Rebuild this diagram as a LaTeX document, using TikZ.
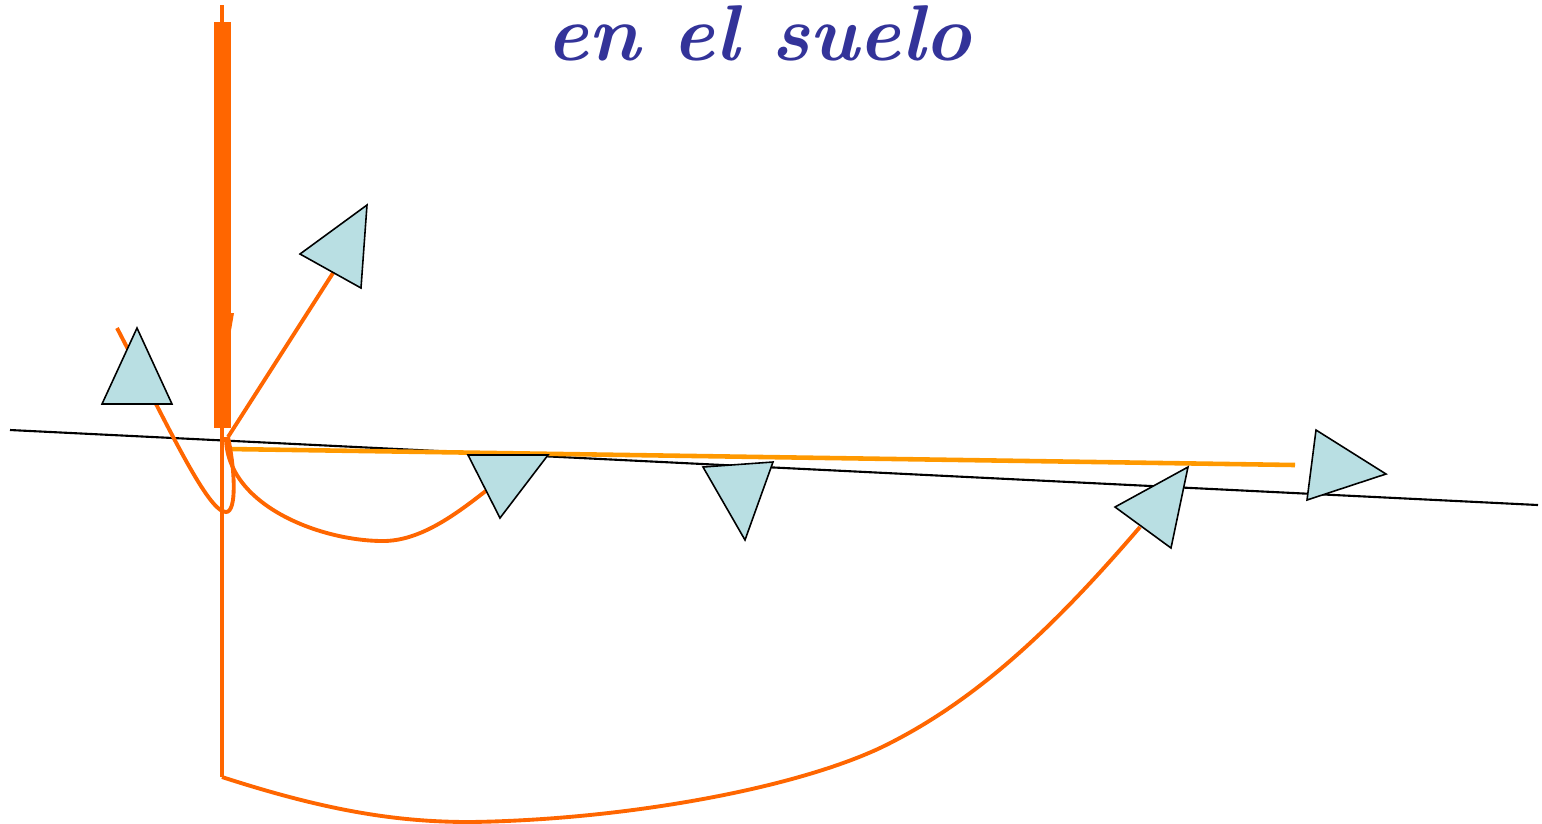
\documentclass[tikz,border=0pt]{standalone}
\usepackage{tikz}
\usetikzlibrary{calc}
\definecolor{ballorange}{HTML}{FF6600}
\definecolor{lineyellow}{HTML}{FF9900}
\definecolor{headblue}{HTML}{B9DFE3}
\definecolor{titleblue}{HTML}{333399}

\begin{document}
\begin{tikzpicture}[x={(0.01cm,0)}, y={(0,-0.01cm)},
  path/.style={line width=1.1pt, ballorange},
  head/.style={fill=headblue, draw=black, line width=0.45pt, line join=miter}]
  \useasboundingbox (0,0) rectangle (1542,823);
  \coordinate (G1) at (10, 430);
  \coordinate (G2) at (1538, 505);
  \coordinate (P) at (228, 437);
  \coordinate (Top) at (222, 5);
  \coordinate (Bot) at (222, 777);
  \coordinate (S) at (117, 328);
  \coordinate (E1) at (333, 273);
  \coordinate (E2) at (487, 490);
  \coordinate (E3) at (1140, 527);
  \coordinate (Y1) at (229, 449);
  \coordinate (Y2) at (1295, 465);
  \node[font=\bfseries\itshape\fontsize{22.5}{22.5}\selectfont, text=titleblue, anchor=base] (title) at (759, 60) {en el suelo};
  \draw[black, line width=0.6pt] (G1) -- (G2);
  \draw[line width=0.9pt, ballorange] (Top) -- (Bot);
  \fill[ballorange] (214, 22) rectangle (231, 428);
  \fill[ballorange] (230, 313) -- (234, 313) -- (229, 342) -- cycle;
  \draw[line width=1.3pt, lineyellow] (Y1) -- (Y2);
  \draw[path] (P) -- (E1);
  \draw[path] (S) .. controls (170, 430) and (208, 512) .. (226, 512) .. controls (237, 512) and (235, 470) .. (P);
  \draw[path] (226, 437) .. controls (226, 505) and (320, 541) .. (383, 541) .. controls (420, 541) and (455, 515) .. (E2);
  \draw[path] (Bot) .. controls (330, 812) and (400, 822) .. (470, 822) .. controls (620, 820) and (790, 790) .. (880, 748) .. controls (980, 700) and (1060, 620) .. (E3);
  \draw[head] (102, 404) -- (172, 404) -- (137, 328) -- cycle;
  \draw[head] (300, 254) -- (367, 205) -- (361, 288) -- cycle;
  \draw[head] (468, 455) -- (548, 455) -- (500, 518) -- cycle;
  \draw[head] (703, 467) -- (773, 462) -- (745, 540) -- cycle;
  \draw[head] (1115, 507) -- (1188, 467) -- (1171, 548) -- cycle;
  \draw[head] (1316, 430) -- (1386, 474) -- (1307, 500) -- cycle;
\end{tikzpicture}
\end{document}
